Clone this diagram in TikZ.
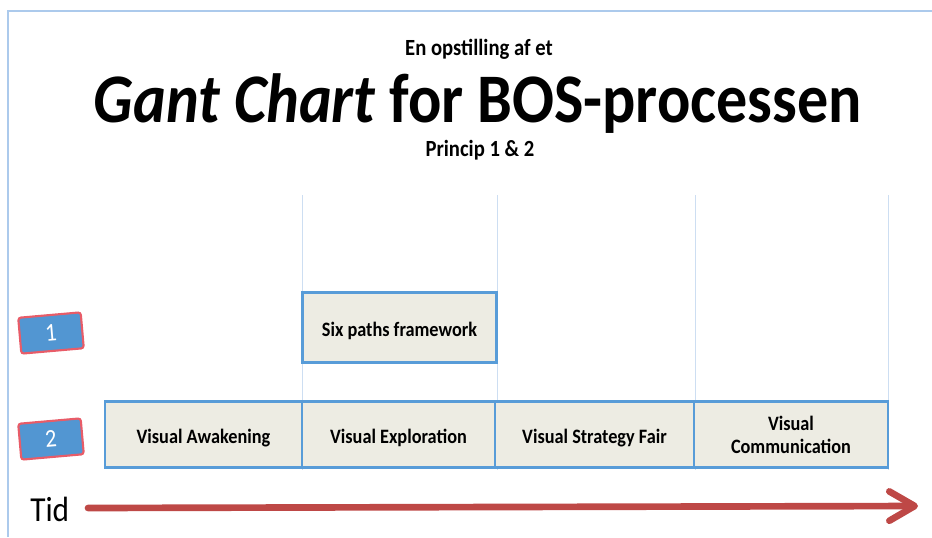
\documentclass[tikz,border=0pt]{standalone}
\usepackage{fontspec}
\usepackage{graphicx}
\setmainfont{Carlito}
\usetikzlibrary{arrows.meta}
\definecolor{framebl}{RGB}{172,202,236}
\definecolor{gridbl}{RGB}{205,222,242}
\definecolor{boxbl}{RGB}{88,156,216}
\definecolor{boxfill}{RGB}{237,236,227}
\definecolor{tagbl}{RGB}{82,150,210}
\definecolor{tagred}{RGB}{232,92,104}
\definecolor{arrowred}{RGB}{190,72,70}
% slightly tall lettering
\newcommand{\tall}[1]{\scalebox{1}[1.12]{#1}}
\newcommand{\twolines}[2]{\tall{\begin{tabular}[b]{@{}c@{}}#1\\#2\end{tabular}}}
\tikzset{
  task/.style={draw=boxbl, line width=2.2pt, fill=boxfill, inner sep=0pt,
    font=\bfseries\fontsize{13.7}{15.4}\selectfont, align=center,
    text height=12.8pt, text depth=0pt},
  tag/.style={draw=tagred, line width=1.6pt, fill=tagbl, rounded corners=2pt,
    minimum width=47pt, minimum height=27pt, rotate=5, text=white,
    font=\fontsize{17}{19}\selectfont},
  grid/.style={draw=gridbl, line width=0.6pt}
}
\begin{document}
\begin{tikzpicture}[x=0.75pt,y=-0.75pt]
\useasboundingbox (0,0) rectangle (932,537);
% page frame
\draw[framebl, line width=1pt] (8,537) -- (8,11) -- (932,11);
% headings
\node[anchor=base, inner sep=0pt] (pre) at (479,55) {\fontsize{15.5}{17}\selectfont\bfseries\tall{En opstilling af et}};
\node[anchor=base, inner sep=0pt] (title) at (478,122) {\fontsize{46.6}{52}\selectfont\bfseries\tall{\itshape Gant Chart\upshape{} for BOS-processen}};
\node[anchor=base, inner sep=0pt] (sub) at (480,156) {\fontsize{15.5}{17}\selectfont\bfseries\tall{Princip 1 \& 2}};
% time grid
\foreach \x in {302,497,695,888} \draw[grid] (\x,195) -- (\x,470);
% row 1
\node[task, text height=14.2pt, minimum width=146pt, minimum height=52pt] (six) at (399.5,327.5) {\tall{Six paths framework}};
% row 2
\node[task, minimum width=147.75pt, minimum height=50pt] (aw) at (203.5,434.5) {\tall{Visual Awakening}};
\node[task, minimum width=144.75pt, minimum height=50pt] (ex) at (398.5,434.5) {\tall{Visual Exploration}};
\node[task, minimum width=149.25pt, minimum height=50pt] (fair) at (594.5,434.5) {\tall{Visual Strategy Fair}};
\node[task, text height=29.2pt, minimum width=145.5pt, minimum height=50pt] (com) at (791,434.5) {\twolines{Visual}{Communication}};
% row tags
\node[tag] (t1) at (51,333) {\tall{1}};
\node[tag] (t2) at (51,439) {\tall{2}};
% time axis
\node[anchor=base west, inner sep=0pt] (tid) at (30,521) {\fontsize{23.5}{26}\selectfont\tall{Tid}};
\coordinate (ts) at (88,508);
\coordinate (te) at (918,506);
\draw[arrowred, line width=5pt, line cap=round,
  -{Straight Barb[length=19pt, width=22pt, line width=5pt, round]}] (ts) -- (te);
\end{tikzpicture}
\end{document}
